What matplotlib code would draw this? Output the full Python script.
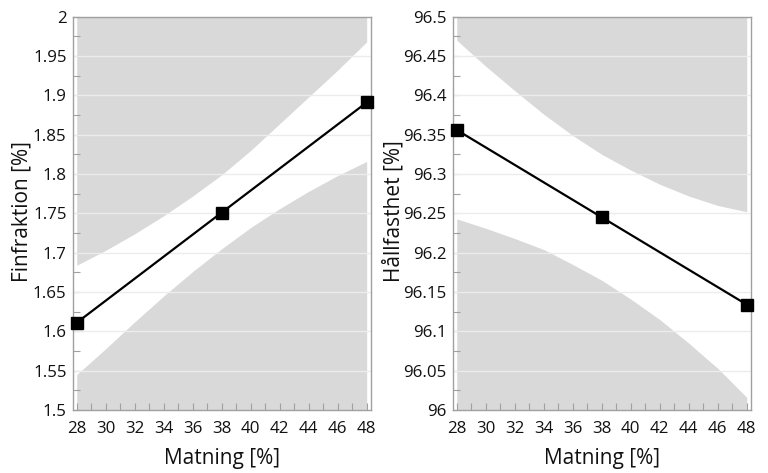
import matplotlib
matplotlib.use("Agg")
import matplotlib.pyplot as plt
from matplotlib.ticker import MultipleLocator, FixedLocator

plt.rcParams['font.family'] = ['Open Sans', 'DejaVu Sans']

# Data
matning = [28, 38, 48]
finfraktion = [1.611, 1.751, 1.891]
hallfasthet = [96.356, 96.245, 96.134]

band_x = [28, 30, 32, 34, 36, 38, 40, 42, 44, 46, 48]
fin_upper = [1.684, 1.703, 1.724, 1.747, 1.772, 1.799, 1.830, 1.864, 1.898, 1.932, 1.968]
fin_lower = [1.545, 1.578, 1.612, 1.645, 1.676, 1.705, 1.732, 1.756, 1.778, 1.798, 1.816]
hal_upper = [96.470, 96.437, 96.406, 96.376, 96.349, 96.325, 96.305, 96.287, 96.272, 96.260, 96.252]
hal_lower = [96.243, 96.231, 96.218, 96.204, 96.185, 96.165, 96.141, 96.115, 96.085, 96.053, 96.016]

x_ticks = [28, 30, 32, 34, 36, 38, 40, 42, 44, 46, 48]
fin_yticks = [1.5, 1.55, 1.6, 1.65, 1.7, 1.75, 1.8, 1.85, 1.9, 1.95, 2.0]
fin_yticklabels = ["1.5", "1.55", "1.6", "1.65", "1.7", "1.75", "1.8", "1.85", "1.9", "1.95", "2"]
hal_yticks = [96.0, 96.05, 96.1, 96.15, 96.2, 96.25, 96.3, 96.35, 96.4, 96.45, 96.5]
hal_yticklabels = ["96", "96.05", "96.1", "96.15", "96.2", "96.25", "96.3", "96.35", "96.4", "96.45", "96.5"]

xlabel = "Matning [%]"
fin_ylabel = "Finfraktion [%]"
hal_ylabel = "Hållfasthet [%]"

fig = plt.figure(figsize=(7.68, 4.73), dpi=100)
ax1 = fig.add_axes([0.0947, 0.1332, 0.3884, 0.8315])
ax2 = fig.add_axes([0.5895, 0.1332, 0.3885, 0.8315])

shade = '#d9d9d9'
spine_c = '#a0a0a0'

def style(ax, y, upper, lower, yticks, yticklabels, ylabel, ylim, yminor, label_x):
    ax.fill_between(band_x, upper, [ylim[1]] * len(band_x), color=shade, lw=0, zorder=1)
    ax.fill_between(band_x, [ylim[0]] * len(band_x), lower, color=shade, lw=0, zorder=1)
    for t in yticks[1:-1]:
        ax.axhline(t, color='#ececec', lw=1.0, zorder=2)
    ax.plot(matning, y, color='black', lw=1.6, marker='s', ms=8.5,
            markerfacecolor='black', markeredgecolor='black', zorder=3, clip_on=False)
    ax.set_xlim(27.724, 48.30)
    ax.set_ylim(*ylim)
    ax.xaxis.set_major_locator(FixedLocator(x_ticks))
    ax.set_xticklabels([str(v) for v in x_ticks])
    ax.xaxis.set_minor_locator(MultipleLocator(1))
    ax.yaxis.set_major_locator(FixedLocator(yticks))
    ax.set_yticklabels(yticklabels)
    ax.yaxis.set_minor_locator(MultipleLocator(yminor))
    ax.tick_params(axis='both', which='both', direction='in', color=spine_c,
                   length=5, width=0.8, labelsize=12.2, labelcolor='#111111')
    ax.tick_params(axis='y', which='both', pad=4.5)
    ax.tick_params(axis='x', which='both', pad=8)
    ax.tick_params(top=False, right=False)
    for s in ax.spines.values():
        s.set_color(spine_c)
        s.set_linewidth(1.0)
    ax.set_xlabel(xlabel, fontsize=15, color='#111111', labelpad=8)
    ax.set_ylabel(ylabel, fontsize=15, color='#111111')
    ax.yaxis.set_label_coords(label_x, 0.505)

style(ax1, finfraktion, fin_upper, fin_lower, fin_yticks, fin_yticklabels,
      fin_ylabel, (1.5, 2.0), 0.025, -0.135)
style(ax2, hallfasthet, hal_upper, hal_lower, hal_yticks, hal_yticklabels,
      hal_ylabel, (96.0, 96.5), 0.025, -0.162)

fig.savefig("out.png", dpi=100)
